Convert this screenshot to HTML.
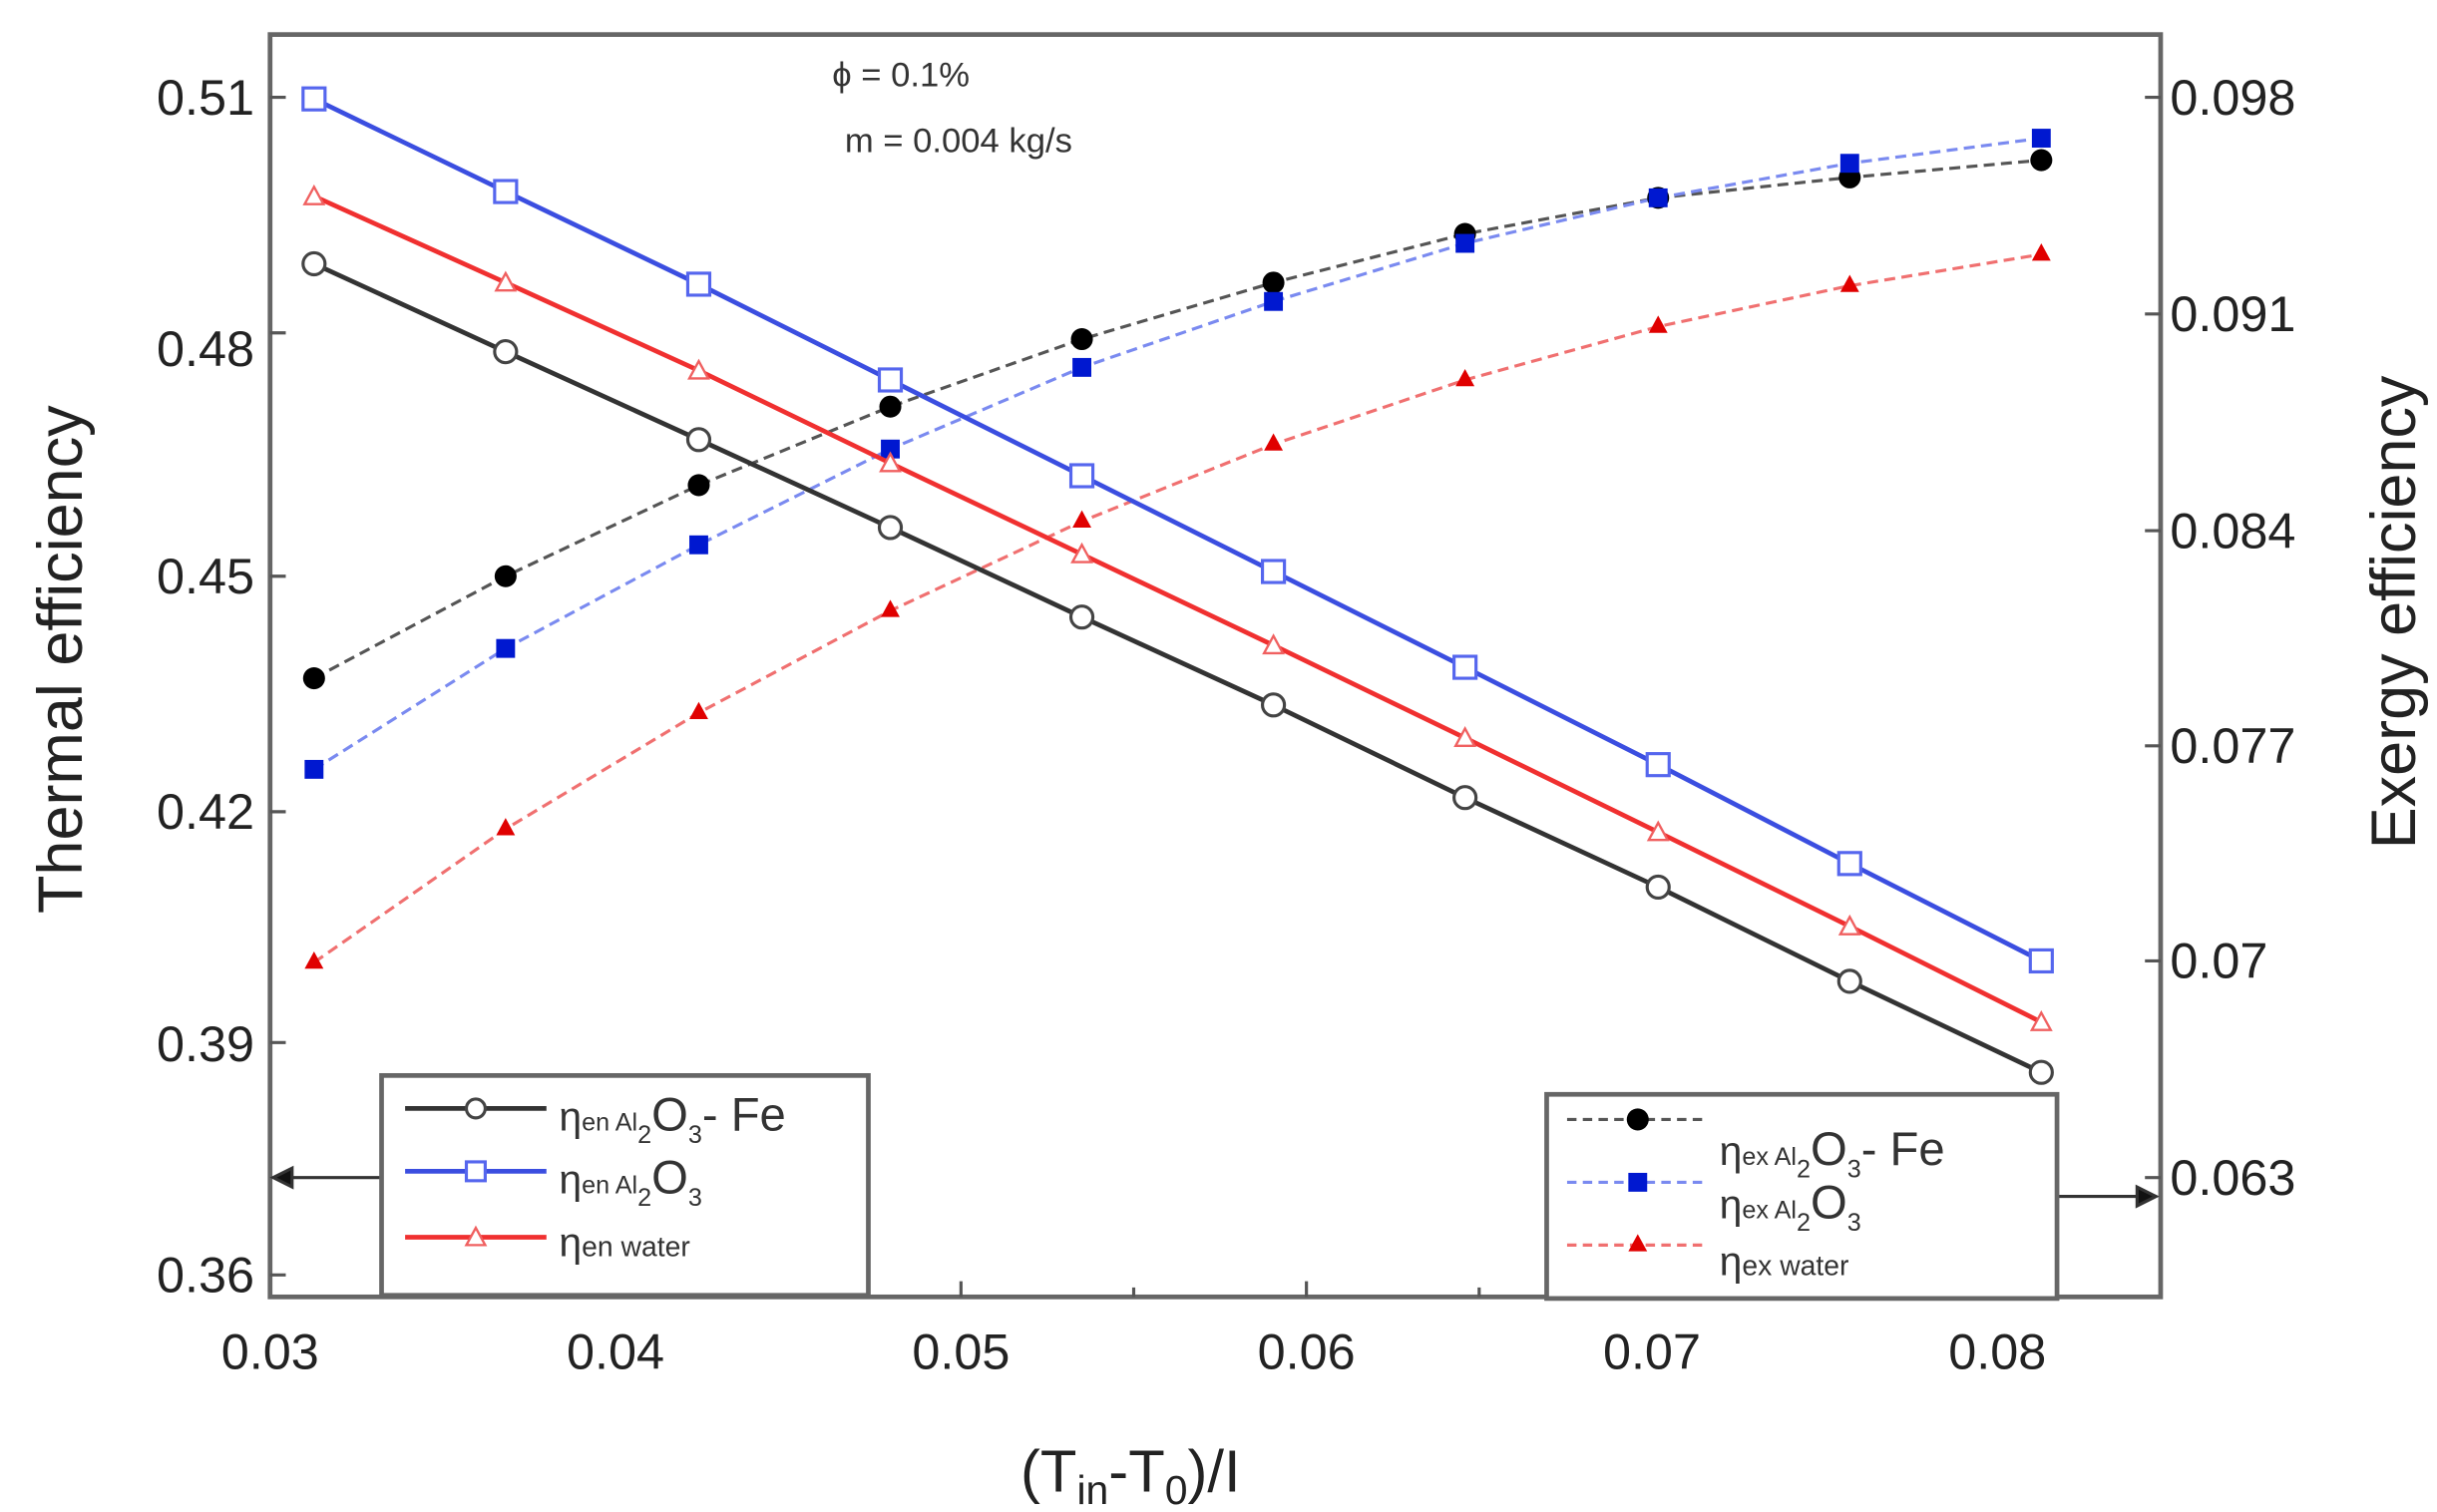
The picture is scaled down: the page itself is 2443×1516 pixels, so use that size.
<!DOCTYPE html>
<html><head><meta charset="utf-8"><style>
html,body{margin:0;padding:0;background:#fff;}
svg{display:block;}
text{font-family:"Liberation Sans",Arial,sans-serif;}
</style></head><body>
<svg width="2443" height="1516" viewBox="0 0 1552 963" preserveAspectRatio="none" xmlns="http://www.w3.org/2000/svg">
<rect width="1552" height="963" fill="#fff"/>
<rect x="172" y="22" width="1204" height="804" fill="none" stroke="#666" stroke-width="3"/>
<g stroke="#555" stroke-width="2">
<path d="M172 62h10M172 212h10M172 367h10M172 517h10M172 664h10M172 812h10"/>
<path d="M1376 62h-10M1376 200h-10M1376 338h-10M1376 475h-10M1376 612h-10M1376 750h-10"/>
<path d="M392 826v-10M612 826v-10M832 826v-10M1052 826v-10M1272 826v-10M282 826v-6M502 826v-6M722 826v-6M942 826v-6M1162 826v-6"/>
</g>
<g font-size="32" fill="#222" text-anchor="end">
<text x="162" y="73">0.51</text><text x="162" y="233">0.48</text><text x="162" y="378">0.45</text>
<text x="162" y="528">0.42</text><text x="162" y="676">0.39</text><text x="162" y="823">0.36</text>
</g>
<g font-size="32" fill="#222">
<text x="1382" y="73">0.098</text><text x="1382" y="211">0.091</text><text x="1382" y="349">0.084</text>
<text x="1382" y="486">0.077</text><text x="1382" y="623">0.07</text><text x="1382" y="761">0.063</text>
</g>
<g font-size="32" fill="#222" text-anchor="middle">
<text x="172" y="872">0.03</text><text x="392" y="872">0.04</text><text x="612" y="872">0.05</text>
<text x="832" y="872">0.06</text><text x="1052" y="872">0.07</text><text x="1272" y="872">0.08</text>
</g>
<text x="720" y="950" font-size="38" fill="#222" text-anchor="middle">(T<tspan font-size="26" dy="8">in</tspan><tspan dy="-8">-T</tspan><tspan font-size="26" dy="8">0</tspan><tspan dy="-8">)/I</tspan></text>
<text transform="translate(52,420) rotate(-90)" font-size="40" fill="#222" text-anchor="middle">Thermal efficiency</text>
<text transform="translate(1538,390) rotate(-90)" font-size="40" fill="#222" text-anchor="middle">Exergy efficiency</text>
<text x="530" y="55" font-size="22" fill="#333">ϕ = 0.1%</text>
<text x="538" y="97" font-size="22" fill="#333">m = 0.004 kg/s</text>
<g fill="none" stroke-width="2" stroke-dasharray="7,4">
<polyline stroke="#555" points="200,432 322,367 445,309 567,259 689,216 811,180 933,149 1056,126 1178,113 1300,102"/>
<polyline stroke="#7a8af0" points="200,490 322,413 445,347 567,286 689,234 811,192 933,155 1056,126 1178,104 1300,88"/>
<polyline stroke="#f07070" points="200,613 322,528 445,454 567,389 689,332 811,283 933,242 1056,208 1178,182 1300,162"/>
</g>
<g fill="#000">
<circle cx="200" cy="432" r="7"/><circle cx="322" cy="367" r="7"/><circle cx="445" cy="309" r="7"/><circle cx="567" cy="259" r="7"/><circle cx="689" cy="216" r="7"/><circle cx="811" cy="180" r="7"/><circle cx="933" cy="149" r="7"/><circle cx="1056" cy="126" r="7"/><circle cx="1178" cy="113" r="7"/><circle cx="1300" cy="102" r="7"/>
</g>
<g fill="#0018d0">
<rect x="194" y="484" width="12" height="12"/><rect x="316" y="407" width="12" height="12"/><rect x="439" y="341" width="12" height="12"/><rect x="561" y="280" width="12" height="12"/><rect x="683" y="228" width="12" height="12"/><rect x="805" y="186" width="12" height="12"/><rect x="927" y="149" width="12" height="12"/><rect x="1050" y="120" width="12" height="12"/><rect x="1172" y="98" width="12" height="12"/><rect x="1294" y="82" width="12" height="12"/>
</g>
<g fill="#e00000">
<path d="M200 606l6 11h-12z"/><path d="M322 521l6 11h-12z"/><path d="M445 447l6 11h-12z"/><path d="M567 382l6 11h-12z"/><path d="M689 325l6 11h-12z"/><path d="M811 276l6 11h-12z"/><path d="M933 235l6 11h-12z"/><path d="M1056 201l6 11h-12z"/><path d="M1178 175l6 11h-12z"/><path d="M1300 155l6 11h-12z"/>
</g>
<g fill="none" stroke-width="3">
<polyline stroke="#333" points="200,168 322,224 445,280 567,336 689,393 811,449 933,508 1056,565 1178,625 1300,683"/>
<polyline stroke="#3b4ee0" points="200,63 322,122 445,181 567,242 689,303 811,364 933,425 1056,487 1178,550 1300,612"/>
<polyline stroke="#f03030" points="200,125 322,180 445,236 567,295 689,353 811,411 933,470 1056,530 1178,590 1300,651"/>
</g>
<g fill="#fff" stroke="#444" stroke-width="2">
<circle cx="200" cy="168" r="7"/><circle cx="322" cy="224" r="7"/><circle cx="445" cy="280" r="7"/><circle cx="567" cy="336" r="7"/><circle cx="689" cy="393" r="7"/><circle cx="811" cy="449" r="7"/><circle cx="933" cy="508" r="7"/><circle cx="1056" cy="565" r="7"/><circle cx="1178" cy="625" r="7"/><circle cx="1300" cy="683" r="7"/>
</g>
<g fill="#fff" stroke="#5566ee" stroke-width="2">
<rect x="193" y="56" width="14" height="14"/><rect x="315" y="115" width="14" height="14"/><rect x="438" y="174" width="14" height="14"/><rect x="560" y="235" width="14" height="14"/><rect x="682" y="296" width="14" height="14"/><rect x="804" y="357" width="14" height="14"/><rect x="926" y="418" width="14" height="14"/><rect x="1049" y="480" width="14" height="14"/><rect x="1171" y="543" width="14" height="14"/><rect x="1293" y="605" width="14" height="14"/>
</g>
<g fill="#fff" stroke="#f06060" stroke-width="1.5">
<path d="M200 119l6 11h-12z"/><path d="M322 174l6 11h-12z"/><path d="M445 230l6 11h-12z"/><path d="M567 289l6 11h-12z"/><path d="M689 347l6 11h-12z"/><path d="M811 405l6 11h-12z"/><path d="M933 464l6 11h-12z"/><path d="M1056 524l6 11h-12z"/><path d="M1178 584l6 11h-12z"/><path d="M1300 645l6 11h-12z"/>
</g>
<g stroke="#333" stroke-width="2" fill="#111">
<line x1="175" y1="750" x2="243" y2="750"/><path d="M174 750l12-6v12z"/>
<line x1="1310" y1="762" x2="1372" y2="762"/><path d="M1373 762l-12-6v12z"/>
</g>
<rect x="243" y="685" width="310" height="140" fill="#fff" stroke="#666" stroke-width="3"/>
<g stroke-width="3">
<line x1="258" y1="706" x2="348" y2="706" stroke="#333"/><circle cx="303" cy="706" r="6" fill="#fff" stroke="#444" stroke-width="2"/>
<line x1="258" y1="746" x2="348" y2="746" stroke="#3b4ee0"/><rect x="297" y="740" width="12" height="12" fill="#fff" stroke="#5566ee" stroke-width="2"/>
<line x1="258" y1="788" x2="348" y2="788" stroke="#f03030"/><path d="M303 782l6 11h-12z" fill="#fff" stroke="#f06060" stroke-width="1.5"/>
</g>
<g fill="#333">
<text x="356" y="720" font-size="26">η<tspan font-size="16">en Al</tspan><tspan font-size="16" dy="8">2</tspan><tspan font-size="30" dy="-8">O</tspan><tspan font-size="16" dy="8">3</tspan><tspan font-size="30" dy="-8">- Fe</tspan></text>
<text x="356" y="760" font-size="26">η<tspan font-size="16">en Al</tspan><tspan font-size="16" dy="8">2</tspan><tspan font-size="30" dy="-8">O</tspan><tspan font-size="16" dy="8">3</tspan></text>
<text x="356" y="800" font-size="26">η<tspan font-size="18">en water</tspan></text>
</g>
<rect x="985" y="697" width="325" height="130" fill="#fff" stroke="#666" stroke-width="3"/>
<g stroke-width="2" stroke-dasharray="6,4">
<line x1="998" y1="713" x2="1088" y2="713" stroke="#555"/>
<line x1="998" y1="753" x2="1088" y2="753" stroke="#7a8af0"/>
<line x1="998" y1="793" x2="1088" y2="793" stroke="#f07070"/>
</g>
<circle cx="1043" cy="713" r="7" fill="#000"/>
<rect x="1037" y="747" width="12" height="12" fill="#0018d0"/>
<path d="M1043 786l6 11h-12z" fill="#e00000"/>
<g fill="#333">
<text x="1095" y="742" font-size="26">η<tspan font-size="16">ex Al</tspan><tspan font-size="16" dy="8">2</tspan><tspan font-size="30" dy="-8">O</tspan><tspan font-size="16" dy="8">3</tspan><tspan font-size="30" dy="-8">- Fe</tspan></text>
<text x="1095" y="776" font-size="26">η<tspan font-size="16">ex Al</tspan><tspan font-size="16" dy="8">2</tspan><tspan font-size="30" dy="-8">O</tspan><tspan font-size="16" dy="8">3</tspan></text>
<text x="1095" y="812" font-size="26">η<tspan font-size="18">ex water</tspan></text>
</g>
</svg>
</body></html>
